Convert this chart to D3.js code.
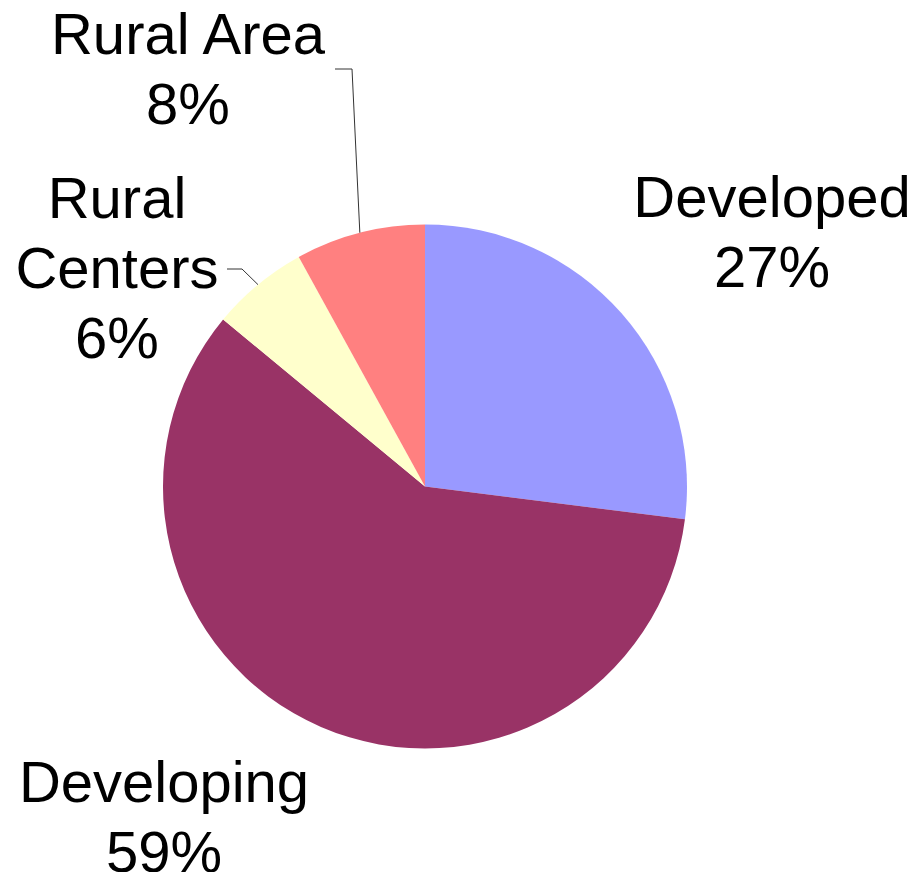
<!DOCTYPE html>
<html>
<head>
<meta charset="utf-8">
<script src="https://cdn.jsdelivr.net/npm/d3@7"></script>
<style>
  body { margin: 0; background: #fff; }
  svg text { font-family: "Liberation Sans", Arial, sans-serif; font-size: 58px; fill: #000; }
</style>
</head>
<body>
<div id="chart"></div>
<script>
// data
const categories = ["Developed", "Developing", "Rural Centers", "Rural Area"];
const shares = [27, 59, 6, 8];
const colors = ["#9999FF", "#993366", "#FFFFCC", "#FF8080"];
const labelLines = [["Developed"], ["Developing"], ["Rural", "Centers"], ["Rural Area"]];

const width = 920, height = 872;
const cx = 425, cy = 486.5, radius = 262;
const lineH = 70;

// label anchors (text centre x, first baseline y) and leader elbows
const labelPos = [
  { x: 772, y: 217 },
  { x: 164, y: 802 },
  { x: 117, y: 218 },
  { x: 188, y: 54 }
];
const leaders = [
  null,
  null,
  [[227, 269], [242, 269]],
  [[335, 69], [352, 69]]
];

const data = categories.map((c, i) => ({ name: c, value: shares[i], color: colors[i], i }));

const svg = d3.select("#chart")
  .append("svg")
  .attr("width", width)
  .attr("height", height);

const pie = d3.pie()
  .sort(null)
  .value(d => d.value);

const arc = d3.arc()
  .innerRadius(0)
  .outerRadius(radius);

const edge = d3.arc()
  .innerRadius(radius)
  .outerRadius(radius);

const arcs = pie(data);

const g = svg.append("g")
  .attr("transform", `translate(${cx},${cy})`);

g.selectAll("path.slice")
  .data(arcs)
  .enter()
  .append("path")
  .attr("class", "slice")
  .attr("d", arc)
  .attr("fill", d => d.data.color);

// leader lines from elbow to slice edge
arcs.forEach((a) => {
  const pts = leaders[a.data.i];
  if (!pts) return;
  const c = edge.centroid(a);
  const all = pts.concat([[c[0] + cx, c[1] + cy]]);
  svg.append("path")
    .attr("d", d3.line()(all))
    .attr("fill", "none")
    .attr("stroke", "#333")
    .attr("stroke-width", 1);
});

// labels
arcs.forEach((a) => {
  const p = labelPos[a.data.i];
  const lines = labelLines[a.data.i].concat([a.data.value + "%"]);
  const t = svg.append("text")
    .attr("text-anchor", "middle");
  lines.forEach((l, k) => {
    t.append("tspan")
      .attr("x", p.x)
      .attr("y", p.y + k * lineH)
      .text(l);
  });
});
</script>
</body>
</html>
